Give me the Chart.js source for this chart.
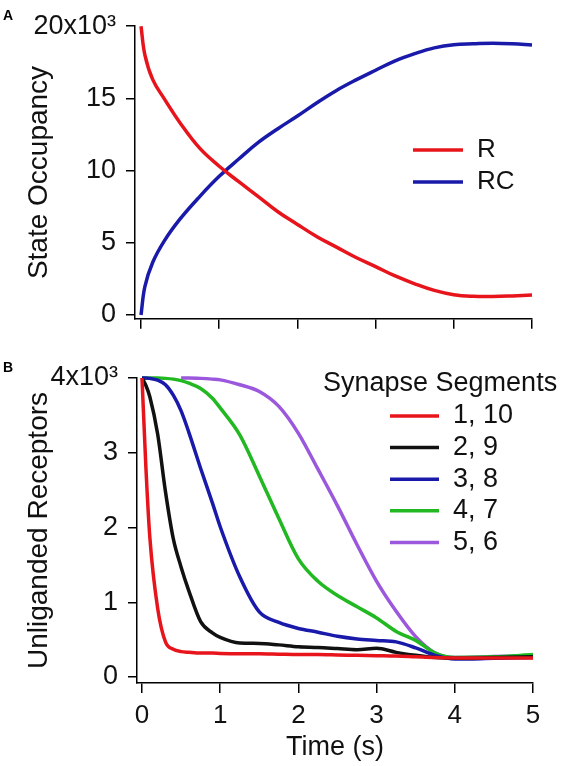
<!DOCTYPE html>
<html>
<head>
<meta charset="utf-8">
<script src="https://cdn.jsdelivr.net/npm/chart.js@4.4.1/dist/chart.umd.min.js"></script>
<style>
  html, body { margin: 0; padding: 0; background: #fff; }
  #wrap { position: relative; width: 562px; height: 766px; overflow: hidden; }
  canvas { position: absolute; left: 0; }
  #chartA { top: 0; }
  #chartB { top: 345px; }
  .panel { position: absolute; font: bold 14px "Liberation Sans", Arial, sans-serif; line-height: 14px; color: #000; }
</style>
</head>
<body>
<div id="wrap">
  <canvas id="chartA" width="562" height="345"></canvas>
  <canvas id="chartB" width="562" height="421"></canvas>
  <div class="panel" style="left:3px;top:8px">A</div>
  <div class="panel" style="left:3px;top:360px">B</div>
</div>
<script>
// panel A: state occupancy vs time
const timesA = [0, 0.05, 0.15, 0.3, 0.5, 0.75, 1.0, 1.25, 1.5, 1.75, 2.0, 2.25, 2.5, 2.75, 3.0, 3.25, 3.5, 3.75, 4.0, 4.25, 4.5, 4.75, 5.0];
const stateR  = [20000, 18000, 16300, 14950, 13300, 11550, 10300, 9230, 8200, 7150, 6270, 5420, 4700, 3980, 3350, 2700, 2160, 1700, 1400, 1290, 1280, 1320, 1380];
const stateRC = [0, 1980, 3650, 5150, 6650, 8200, 9600, 10800, 11950, 12900, 13780, 14700, 15550, 16280, 16950, 17600, 18100, 18500, 18720, 18780, 18820, 18780, 18690];

// panel B: unliganded receptors per synapse segment
const timesB = [0, 0.05, 0.1, 0.2, 0.3, 0.4, 0.5, 0.6, 0.75, 0.9, 1.0, 1.25, 1.5, 1.75, 2.0, 2.25, 2.5, 2.75, 3.0, 3.25, 3.5, 3.75, 4.0, 4.5, 5.0];
const seg1_10 = [4000, 2800, 1870, 920, 470, 370, 340, 330, 320, 320, 315, 310, 310, 305, 300, 300, 295, 290, 285, 280, 270, 260, 255, 255, 255];
const seg2_9  = [4000, 3900, 3750, 3250, 2480, 1850, 1470, 1150, 740, 590, 530, 455, 450, 430, 405, 395, 380, 365, 385, 330, 290, 260, 250, 260, 270];
const seg3_8  = [4000, 4000, 3995, 3970, 3910, 3770, 3560, 3270, 2790, 2330, 2010, 1340, 870, 730, 650, 600, 545, 510, 490, 470, 390, 290, 240, 250, 260];
const seg4_7  = [4000, 4000, 4000, 4000, 3995, 3985, 3965, 3930, 3860, 3730, 3600, 3240, 2690, 2120, 1580, 1280, 1090, 940, 790, 610, 490, 320, 260, 270, 300];
const seg5_6  = [null, null, null, null, null, null, 4000, 4000, 3995, 3985, 3975, 3910, 3820, 3620, 3260, 2780, 2290, 1770, 1280, 880, 540, 320, 260, 275, 285];
const segLabels = ['1, 10', '2, 9', '3, 8', '4, 7', '5, 6'];

const timeTicks = [0, 1, 2, 3, 4, 5];
const occTicks = [0, 5000, 10000, 15000, 20000];
const recTicks = [0, 1000, 2000, 3000, 4000];

Chart.defaults.font.family = '"Liberation Sans", Arial, sans-serif';
Chart.defaults.color = '#111';

const pts = (xs, ys) => xs.map((x, i) => ({x: x, y: ys[i]}));

// draws the little legend inside the plot
const insetLegend = {
  id: 'insetLegend',
  afterDraw(chart, args, o) {
    const ctx = chart.ctx;
    ctx.save();
    ctx.font = o.font;
    ctx.fillStyle = '#111';
    ctx.textBaseline = 'middle';
    ctx.textAlign = 'left';
    if (o.title) ctx.fillText(o.title, o.titleX, o.titleY);
    chart.data.datasets.forEach((ds, i) => {
      const y = o.y + i * o.gap;
      ctx.strokeStyle = ds.borderColor;
      ctx.lineWidth = 3.5;
      ctx.beginPath();
      ctx.moveTo(o.x, y);
      ctx.lineTo(o.x + o.len, y);
      ctx.stroke();
      ctx.fillText(ds.label, o.x + o.len + 14, y);
    });
    ctx.restore();
  }
};

function lineSet(label, xs, ys, color, mono) {
  return {
    label: label, data: pts(xs, ys), borderColor: color, backgroundColor: color,
    borderWidth: 3.5, pointRadius: 0, clip: 4, fill: false,
    cubicInterpolationMode: mono ? 'monotone' : 'default', tension: 0.4
  };
}

function axisX(min, h, showLabels, title) {
  return {
    type: 'linear', min: min, max: 5,
    afterBuildTicks: s => { s.ticks = timeTicks.map(v => ({value: v})); },
    afterFit: s => { s.height = h; },
    border: {color: '#000', width: 1.5},
    grid: {drawOnChartArea: false, drawTicks: true, tickLength: 10, color: '#000', lineWidth: 1.5},
    ticks: {display: showLabels, padding: 7, font: {size: 26}, color: '#111'},
    title: {display: !!title, text: title || '', font: {size: 27}, color: '#111', padding: {top: 0, bottom: 2}}
  };
}

function axisY(min, max, w, tickVals, topLabel, title) {
  return {
    min: min, max: max,
    afterBuildTicks: s => { s.ticks = tickVals.map(v => ({value: v})); },
    afterFit: s => { s.width = w; },
    border: {color: '#000', width: 1.5},
    grid: {drawOnChartArea: false, drawTicks: true, tickLength: 9, color: '#000', lineWidth: 1.5},
    ticks: {padding: 10, font: {size: 27}, color: '#111',
      callback: v => v === max ? topLabel : String(v / 1000)},
    title: {display: true, text: title, font: {size: 28}, color: '#111', padding: {top: 22, bottom: 0}}
  };
}

new Chart(document.getElementById('chartA'), {
  type: 'line',
  data: {
    datasets: [
      lineSet('R', timesA, stateR, '#e8141c', false),
      lineSet('RC', timesA, stateRC, '#1a1aaa', false)
    ]
  },
  options: {
    responsive: false, animation: false,
    layout: {padding: {top: 22, right: 30, left: 0, bottom: 0}},
    plugins: {
      legend: {display: false}, tooltip: {enabled: false},
      insetLegend: {font: '26px "Liberation Sans", Arial, sans-serif', x: 413, y: 150, gap: 32, len: 50}
    },
    scales: {
      x: axisX(-0.077, 18, false, ''),
      y: axisY(-266, 20000, 135, occTicks, '20x10³', 'State Occupancy')
    }
  },
  plugins: [insetLegend]
});

const segColors = ['#e8141c', '#111111', '#1a1aaa', '#22b822', '#9b58dc'];
const segData = [seg1_10, seg2_9, seg3_8, seg4_7, seg5_6];

new Chart(document.getElementById('chartB'), {
  type: 'line',
  data: {
    datasets: segData.map((d, i) => lineSet(segLabels[i], timesB, d, segColors[i], true))
  },
  options: {
    responsive: false, animation: false,
    layout: {padding: {top: 33, right: 29, left: 0, bottom: 0}},
    plugins: {
      legend: {display: false}, tooltip: {enabled: false},
      insetLegend: {font: '27px "Liberation Sans", Arial, sans-serif', title: 'Synapse Segments', titleX: 323, titleY: 39,
        x: 390, y: 71, gap: 31.6, len: 49}
    },
    scales: {
      x: axisX(-0.064, 83, true, 'Time (s)'),
      y: axisY(-80, 4000, 137, recTicks, '4x10³', 'Unliganded Receptors')
    }
  },
  plugins: [insetLegend]
});
</script>
</body>
</html>
